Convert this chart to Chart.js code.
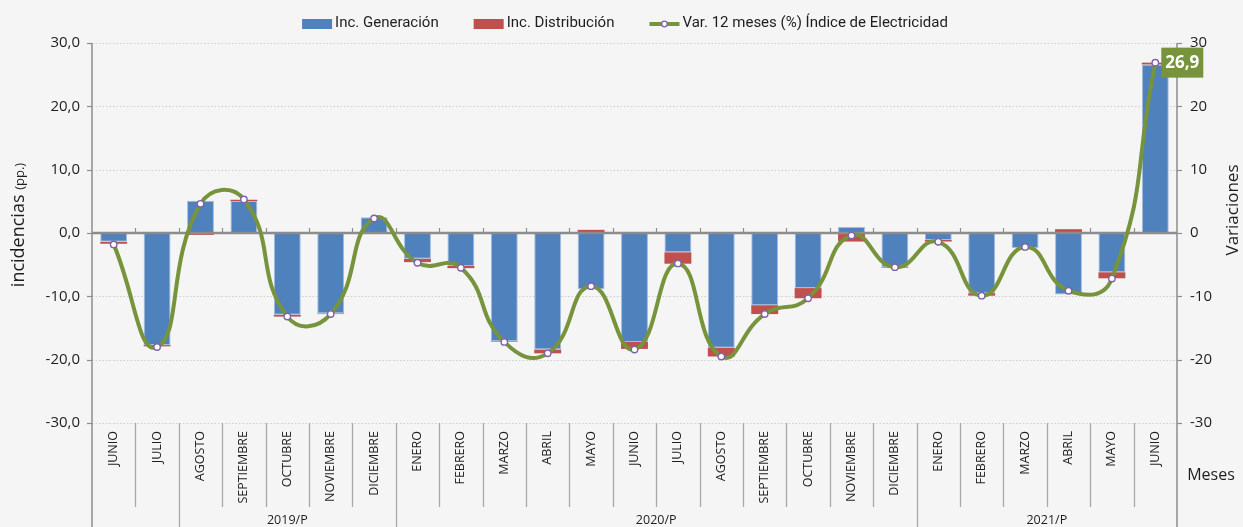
<!DOCTYPE html>
<html><head><meta charset="utf-8">
<script src="https://cdn.jsdelivr.net/npm/chart.js@4.4.1/dist/chart.umd.min.js"></script>
<style>html,body{margin:0;padding:0;background:#F5F5F5;overflow:hidden}#wrap{width:1243px;height:527px;position:relative}</style>
</head><body><div id="wrap"><canvas id="c" width="1243" height="527"></canvas></div>
<script>
const months = ['JUNIO','JULIO','AGOSTO','SEPTIEMBRE','OCTUBRE','NOVIEMBRE','DICIEMBRE','ENERO','FEBRERO','MARZO','ABRIL','MAYO','JUNIO','JULIO','AGOSTO','SEPTIEMBRE','OCTUBRE','NOVIEMBRE','DICIEMBRE','ENERO','FEBRERO','MARZO','ABRIL','MAYO','JUNIO'];
const yearLabels = ['', '2019/P', '2020/P', '2021/P'];
const yearSpans = [2, 5, 12, 6];
const incGeneracion = [-1.4, -17.7, 5.1, 5.05, -12.9, -12.7, 2.5, -4.05, -5.2, -17.1, -18.4, -8.9, -17.2, -3.05, -18.1, -11.4, -8.7, 0.95, -5.4, -1.1, -9.5, -2.35, -9.7, -6.2, 26.6];
const incDistribucion = [-0.3, -0.2, -0.3, 0.2, -0.3, -0.1, -0.1, -0.55, -0.35, -0.1, -0.6, 0.5, -1.1, -1.8, -1.4, -1.4, -1.6, -1.35, -0.1, -0.25, -0.4, 0.15, 0.6, -0.95, 0.3];
const varIndice = [-1.8, -18.0, 4.6, 5.3, -13.2, -12.8, 2.3, -4.7, -5.5, -17.2, -19.0, -8.4, -18.4, -4.8, -19.5, -12.8, -10.3, -0.4, -5.4, -1.4, -9.9, -2.2, -9.1, -7.2, 26.9];
const seriesNames = ['Inc. Generación', 'Inc. Distribución', 'Var. 12 meses (%) Índice de Electricidad'];
const leftTitle = 'incidencias';
const leftTitleSmall = '(pp.)';
const rightTitle = 'Variaciones';
const xTitle = 'Meses';
const lastLabel = '26,9';

const FONT = "'Open Sans', 'Noto Sans', sans-serif";
const LFONT = "Roboto, 'Open Sans', sans-serif";
const BLUE = '#4F81BD', RED = '#C0504D', GREEN = '#77933C', PURPLE = '#7F63A8';
const TXT = '#1E1E1E', AXIS = '#8C8C8C';

const deco = {
  id: 'deco',
  beforeDatasetsDraw(chart) {
    const ctx = chart.ctx, a = chart.chartArea, ys = chart.scales.y;
    ctx.save();
    ctx.strokeStyle = '#CFCFCF'; ctx.lineWidth = 1; ctx.setLineDash([1.5, 2]);
    ys.ticks.forEach(t => {
      if (t.value === 0) return;
      const y = Math.round(ys.getPixelForValue(t.value)) + 0.5;
      ctx.beginPath(); ctx.moveTo(a.left, y); ctx.lineTo(a.right, y); ctx.stroke();
    });
    ctx.restore();
  },
  beforeDatasetDraw(chart, args) {
    if (args.index !== 2) return;
    const ctx = chart.ctx, a = chart.chartArea, ys = chart.scales.y, xs = chart.scales.x;
    const y0 = ys.getPixelForValue(0);
    ctx.save();
    ctx.strokeStyle = AXIS; ctx.lineWidth = 2.5;
    ctx.beginPath(); ctx.moveTo(a.left, y0); ctx.lineTo(a.right, y0); ctx.stroke();
    ctx.lineWidth = 1.2;
    for (let i = 1; i < months.length; i++) {
      const x = Math.round((xs.getPixelForValue(i - 1) + xs.getPixelForValue(i)) / 2) + 0.5;
      ctx.beginPath(); ctx.moveTo(x, y0 - 5); ctx.lineTo(x, y0); ctx.stroke();
    }
    ctx.restore();
  },
  afterDraw(chart) {
    const ctx = chart.ctx, a = chart.chartArea, ys = chart.scales.y, xs = chart.scales.x;
    const H = chart.height;
    ctx.save();
    // axis lines
    ctx.strokeStyle = AXIS; ctx.lineWidth = 1.5;
    [a.left, a.right].forEach(x => {
      ctx.beginPath(); ctx.moveTo(x, a.top); ctx.lineTo(x, H); ctx.stroke();
    });
    ctx.lineWidth = 1.2;
    ys.ticks.forEach(t => {
      const y = Math.round(ys.getPixelForValue(t.value)) + 0.5;
      ctx.beginPath(); ctx.moveTo(a.left - 5, y); ctx.lineTo(a.left, y); ctx.stroke();
      ctx.beginPath(); ctx.moveTo(a.right, y); ctx.lineTo(a.right + 5, y); ctx.stroke();
    });
    // separators
    const bounds = [];
    let c = 0; yearSpans.forEach(s => { c += s; bounds.push(c); });
    ctx.strokeStyle = '#A8A8A8'; ctx.lineWidth = 1.3;
    for (let i = 1; i < months.length; i++) {
      const x = Math.round((xs.getPixelForValue(i - 1) + xs.getPixelForValue(i)) / 2) + 0.5;
      const full = bounds.includes(i);
      ctx.beginPath(); ctx.moveTo(x, a.bottom); ctx.lineTo(x, full ? H : a.bottom + 84); ctx.stroke();
    }
    // year labels
    ctx.fillStyle = TXT; ctx.font = '12.5px ' + FONT; ctx.textAlign = 'center'; ctx.textBaseline = 'middle';
    let start = 0;
    yearSpans.forEach((s, k) => {
      const x0 = start === 0 ? a.left : (xs.getPixelForValue(start - 1) + xs.getPixelForValue(start)) / 2;
      const end = start + s;
      const x1 = end >= months.length ? a.right : (xs.getPixelForValue(end - 1) + xs.getPixelForValue(end)) / 2;
      if (yearLabels[k]) ctx.fillText(yearLabels[k], (x0 + x1) / 2, 520);
      start = end;
    });
    // left title
    ctx.save();
    ctx.translate(19, 225); ctx.rotate(-Math.PI / 2);
    ctx.font = '18px ' + FONT; const w1 = ctx.measureText(leftTitle + ' ').width;
    ctx.font = '13px ' + FONT; const w2 = ctx.measureText(leftTitleSmall).width;
    const sx = -(w1 + w2) / 2;
    ctx.textAlign = 'left'; ctx.textBaseline = 'middle';
    ctx.font = '18px ' + FONT; ctx.fillText(leftTitle + ' ', sx, 0);
    ctx.font = '13px ' + FONT; ctx.fillText(leftTitleSmall, sx + w1, 1);
    ctx.restore();
    // right title
    ctx.save();
    ctx.translate(1233, 210); ctx.rotate(-Math.PI / 2);
    ctx.font = '17px ' + FONT; ctx.textAlign = 'center'; ctx.textBaseline = 'middle';
    ctx.fillText(rightTitle, 0, 0);
    ctx.restore();
    // x title
    ctx.font = '16px ' + FONT; ctx.textAlign = 'center'; ctx.textBaseline = 'middle';
    ctx.fillText(xTitle, 1211, 475);
    // legend
    ctx.font = '15px ' + LFONT; ctx.textAlign = 'left';
    const gap = 3, sp = 35, bw = 30;
    const widths = seriesNames.map(n => bw + gap + ctx.measureText(n).width);
    const total = widths.reduce((p, q) => p + q, 0) + sp * (widths.length - 1);
    let lx = 625 - total / 2; const ly = 23;
    seriesNames.forEach((n, k) => {
      if (k < 2) {
        ctx.fillStyle = k === 0 ? BLUE : RED;
        ctx.fillRect(lx, ly - 4, bw, 10);
      } else {
        ctx.strokeStyle = GREEN; ctx.lineWidth = 4;
        ctx.beginPath(); ctx.moveTo(lx, ly + 1); ctx.lineTo(lx + bw, ly + 1); ctx.stroke();
        ctx.fillStyle = '#fff'; ctx.strokeStyle = PURPLE; ctx.lineWidth = 1.3;
        ctx.beginPath(); ctx.arc(lx + bw / 2, ly + 1, 2.8, 0, Math.PI * 2); ctx.fill(); ctx.stroke();
      }
      ctx.fillStyle = TXT;
      ctx.fillText(n, lx + bw + gap, ly);
      lx += widths[k] + sp;
    });
    // last value label
    const meta = chart.getDatasetMeta(2);
    const pt = meta.data[meta.data.length - 1];
    ctx.fillStyle = GREEN;
    ctx.fillRect(pt.x + 6, pt.y - 15, 42, 30);
    ctx.fillStyle = '#fff'; ctx.font = 'bold 17px ' + FONT; ctx.textAlign = 'center';
    ctx.fillText(lastLabel, pt.x + 27, pt.y + 1);
    ctx.restore();
  }
};

new Chart(document.getElementById('c'), {
  data: {
    labels: months,
    datasets: [
      { type: 'bar', label: seriesNames[0], data: incGeneracion, backgroundColor: BLUE, borderColor: '#A3BCDF', borderWidth: 1, stack: 's', yAxisID: 'y', order: 2, barPercentage: 0.62, categoryPercentage: 1 },
      { type: 'bar', label: seriesNames[1], data: incDistribucion, backgroundColor: RED, borderWidth: 0, stack: 's', yAxisID: 'y', order: 2, barPercentage: 0.62, categoryPercentage: 1 },
      { type: 'line', label: seriesNames[2], data: varIndice, borderColor: GREEN, borderWidth: 4, tension: 0.5, pointRadius: 3.2, pointHoverRadius: 3.2, pointBackgroundColor: '#fff', pointBorderColor: PURPLE, pointBorderWidth: 1.4, yAxisID: 'y2', order: 1, fill: false }
    ]
  },
  options: {
    responsive: false, devicePixelRatio: 1, animation: false,
    layout: { padding: { top: 43, left: 0, right: 0, bottom: 0 } },
    plugins: { legend: { display: false }, tooltip: { enabled: false } },
    scales: {
      x: { stacked: true, grid: { display: false, drawTicks: false }, border: { display: false },
           ticks: { autoSkip: false, maxRotation: 90, minRotation: 90, padding: 8, color: TXT, font: { family: FONT, size: 12.5 } },
           afterFit: s => { s.height = 104; } },
      y: { position: 'left', stacked: true, min: -30, max: 30,
           ticks: { stepSize: 10, padding: 12, color: TXT, font: { family: FONT, size: 15 }, callback: v => v.toFixed(1).replace('.', ',') },
           grid: { display: false, drawTicks: false }, border: { display: false },
           afterFit: s => { s.width = 92; } },
      y2: { position: 'right', min: -30, max: 30,
            ticks: { stepSize: 10, padding: 13, color: TXT, font: { family: FONT, size: 15 }, callback: v => String(v) },
            grid: { display: false, drawTicks: false }, border: { display: false },
            afterFit: s => { s.width = 66; } }
    }
  },
  plugins: [deco]
});
</script></body></html>
